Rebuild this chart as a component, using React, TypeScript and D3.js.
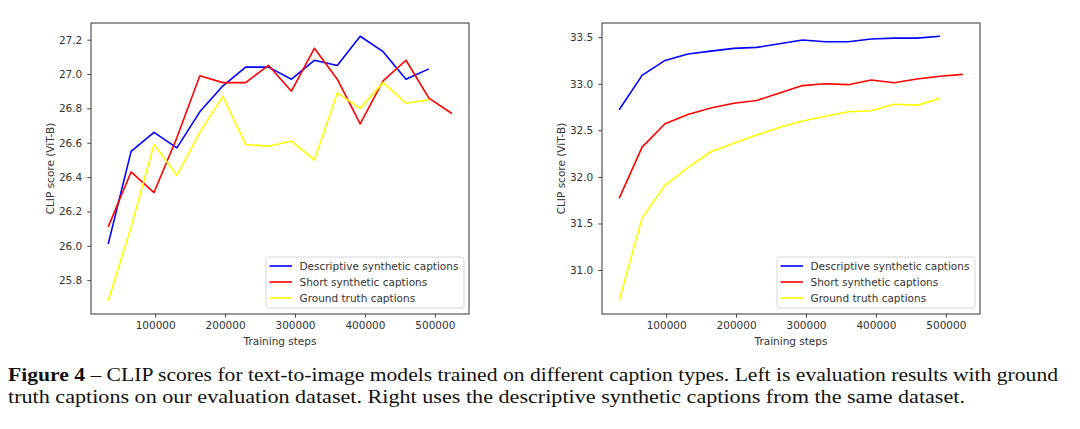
import { useEffect, useRef } from "react"
import * as d3 from "d3"

// training steps at which checkpoints were evaluated
const steps = [
  32768, 65536, 98304, 131072, 163840, 196608, 229376, 262144, 294912, 327680, 360448, 393216, 425984,
  458752, 491520, 524288,
]

const seriesNames = ["Descriptive synthetic captions", "Short synthetic captions", "Ground truth captions"]
const seriesColors = ["#0000ff", "#ff0000", "#ffff00"]

// left: evaluated with ground truth captions
const leftDescriptive = [
  26.01, 26.55, 26.66, 26.57, 26.78, 26.93, 27.04, 27.04, 26.97, 27.08, 27.05, 27.22, 27.13, 26.97, 27.03,
]
const leftShort = [
  26.11, 26.43, 26.31, 26.63, 26.99, 26.95, 26.95, 27.05, 26.9, 27.15, 26.97, 26.71, 26.96, 27.08, 26.86, 26.77,
]
const leftGround = [
  25.68, 26.11, 26.59, 26.41, 26.66, 26.87, 26.59, 26.58, 26.61, 26.5, 26.89, 26.8, 26.95, 26.83, 26.85,
]

// right: evaluated with descriptive synthetic captions
const rightDescriptive = [
  32.72, 33.09, 33.25, 33.32, 33.35, 33.38, 33.39, 33.43, 33.47, 33.45, 33.45, 33.48, 33.49, 33.49, 33.51,
]
const rightShort = [
  31.77, 32.32, 32.57, 32.67, 32.74, 32.79, 32.82, 32.9, 32.98, 33.0, 32.99, 33.04, 33.01, 33.05, 33.08, 33.1,
]
const rightGround = [
  30.67, 31.56, 31.91, 32.1, 32.27, 32.36, 32.45, 32.53, 32.6, 32.65, 32.7, 32.71, 32.78, 32.77, 32.84,
]

const leftYTicks = [25.8, 26.0, 26.2, 26.4, 26.6, 26.8, 27.0, 27.2]
const rightYTicks = [31.0, 31.5, 32.0, 32.5, 33.0, 33.5]
const xTicks = [100000, 200000, 300000, 400000, 500000]

const captionLine1Bold = "Figure 4"
const captionLine1 =
  " – CLIP scores for text-to-image models trained on different caption types. Left is evaluation results with ground"
const captionLine2 =
  "truth captions on our evaluation dataset. Right uses the descriptive synthetic captions from the same dataset."

const FONT = "'DejaVu Sans', sans-serif"
const FS = 10.5

function drawPanel(
  root: d3.Selection<SVGSVGElement, unknown, null, undefined>,
  left: number,
  series: number[][],
  yTicks: number[],
) {
  const top = 23
  const width = 378
  const height = 291

  const g = root.append("g").attr("transform", `translate(${left},${top})`)

  // matplotlib style 5% margins around data
  const allY = series.flat()
  const yMin = d3.min(allY)!
  const yMax = d3.max(allY)!
  const yPad = (yMax - yMin) * 0.05
  const xMin = steps[0]
  const xMax = steps[steps.length - 1]
  const xPad = (xMax - xMin) * 0.05

  const x = d3.scaleLinear().domain([xMin - xPad, xMax + xPad]).range([0, width])
  const y = d3.scaleLinear().domain([yMin - yPad, yMax + yPad]).range([height, 0])

  const line = d3
    .line<number>()
    .x((_, i) => x(steps[i]))
    .y((d) => y(d))

  series.forEach((vals, i) => {
    g.append("path")
      .datum(vals)
      .attr("fill", "none")
      .attr("stroke", seriesColors[i])
      .attr("stroke-width", 1.6)
      .attr("stroke-linejoin", "round")
      .attr("d", line)
  })

  // axes
  const xAxis = g
    .append("g")
    .attr("transform", `translate(0,${height})`)
    .call(d3.axisBottom(x).tickValues(xTicks).tickFormat(d3.format("d")).tickSize(3.7).tickPadding(4))
  const yAxis = g
    .append("g")
    .call(d3.axisLeft(y).tickValues(yTicks).tickFormat(d3.format(".1f")).tickSize(3.7).tickPadding(5))

  for (const ax of [xAxis, yAxis]) {
    ax.select(".domain").remove()
    ax.selectAll("line").attr("stroke", "#444").attr("stroke-width", 1)
    ax.selectAll("text").attr("fill", "#333").attr("font-size", FS).attr("font-family", FONT)
  }

  // frame
  g.append("rect")
    .attr("width", width)
    .attr("height", height)
    .attr("fill", "none")
    .attr("stroke", "#444")
    .attr("stroke-width", 1.1)

  g.append("text")
    .attr("x", width / 2)
    .attr("y", height + 31)
    .attr("text-anchor", "middle")
    .attr("font-size", FS)
    .attr("font-family", FONT)
    .attr("fill", "#333")
    .text("Training steps")

  g.append("text")
    .attr("transform", `translate(-37,${height / 2}) rotate(-90)`)
    .attr("text-anchor", "middle")
    .attr("font-size", FS)
    .attr("font-family", FONT)
    .attr("fill", "#333")
    .text("CLIP score (ViT-B)")

  // legend
  const lg = g.append("g").attr("transform", `translate(${width - 203},${height - 57})`)
  lg.append("rect")
    .attr("width", 198)
    .attr("height", 51)
    .attr("rx", 2.5)
    .attr("fill", "#fff")
    .attr("fill-opacity", 0.8)
    .attr("stroke", "#d6d6d6")
    .attr("stroke-width", 1)
  seriesNames.forEach((name, i) => {
    const cy = 9 + i * 16
    lg.append("line")
      .attr("x1", 3.5)
      .attr("x2", 26)
      .attr("y1", cy)
      .attr("y2", cy)
      .attr("stroke", seriesColors[i])
      .attr("stroke-width", 1.6)
    lg.append("text")
      .attr("x", 33.5)
      .attr("y", cy)
      .attr("dy", "0.35em")
      .attr("font-size", FS)
      .attr("font-family", FONT)
      .attr("fill", "#333")
      .text(name)
  })
}

export default function App() {
  const svgRef = useRef<SVGSVGElement>(null)

  useEffect(() => {
    if (!svgRef.current) return
    const svg = d3.select(svgRef.current)
    svg.selectAll("*").remove()

    drawPanel(svg, 91, [leftDescriptive, leftShort, leftGround], leftYTicks)
    drawPanel(svg, 602, [rightDescriptive, rightShort, rightGround], rightYTicks)

    const cap = svg
      .append("g")
      .attr("font-family", "'Liberation Serif', 'Times New Roman', serif")
      .attr("font-size", 18)
      .attr("fill", "#111")
    const t1 = cap
      .append("text")
      .attr("x", 8)
      .attr("y", 381)
      .attr("textLength", 1050)
      .attr("lengthAdjust", "spacingAndGlyphs")
    t1.append("tspan").attr("font-weight", "bold").text(captionLine1Bold)
    t1.append("tspan").text(captionLine1)
    cap
      .append("text")
      .attr("x", 8)
      .attr("y", 402.5)
      .attr("textLength", 957)
      .attr("lengthAdjust", "spacingAndGlyphs")
      .text(captionLine2)
  }, [])

  return (
    <svg
      ref={svgRef}
      width={1080}
      height={429}
      style={{ position: "absolute", left: 0, top: 0, background: "#fff" }}
    />
  )
}
